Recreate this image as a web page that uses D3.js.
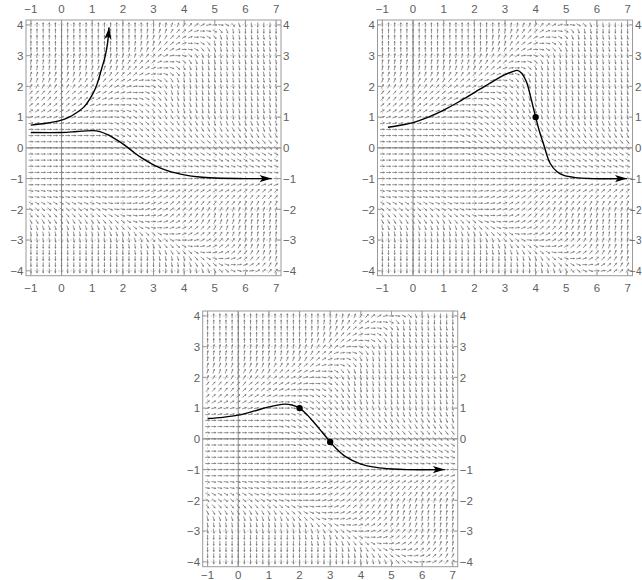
<!DOCTYPE html>
<html><head><meta charset="utf-8">
<script src="https://cdn.jsdelivr.net/npm/d3@7"></script>
<style>body{margin:0;background:#fff}svg{display:block}</style>
</head><body>
<svg id="c" width="642" height="580"></svg>
<script>
// ---------- data ----------
const xTicks = [-1, 0, 1, 2, 3, 4, 5, 6, 7];
const yTicks = [-4, -3, -2, -1, 0, 1, 2, 3, 4];
// direction-field sample points (columns left->right, rows top->bottom)
const fieldXs = [-1,-0.8,-0.6,-0.4,-0.2,0,0.2,0.4,0.6,0.8,1,1.2,1.4,1.6,1.8,2,2.2,2.4,2.6,2.8,3,3.2,3.4,3.6,3.8,4,4.2,4.4,4.6,4.8,5,5.2,5.4,5.6,5.8,6,6.2,6.4,6.6,6.8,7];
const fieldYs = [4,3.8,3.6,3.4,3.2,3,2.8,2.6,2.4,2.2,2,1.8,1.6,1.4,1.2,1,0.8,0.6,0.4,0.2,0,-0.2,-0.4,-0.6,-0.8,-1,-1.2,-1.4,-1.6,-1.8,-2,-2.2,-2.4,-2.6,-2.8,-3,-3.2,-3.4,-3.6,-3.8,-4];
// slope angle codes: A=-90deg ... J=0deg ... S=+90deg (10deg steps), run-length encoded
const angleCodes = "ABCDEFGHIJKLMNOPQRS";
const fieldRows = [
  "S21R2Q2PONMLJIGECB2A4",
  "S19R2Q2PONMLJIGECB2A6",
  "S18R2Q2PONMLJIGECB9",
  "S17R2Q2PONMLJIGECB10",
  "S16R2Q2PONMLJIGEDCB10",
  "R15Q3PO2NMKJHFDCB12",
  "R13Q3P2ON2LKJHFDCB13",
  "R10Q5P2ONMLKJHFDCB14",
  "Q11P3O2N2MLKJHFEC2B14",
  "Q6P5O2N2M2LKJIGEDCB16",
  "P8O3N3M2LKJIGFDC2B16",
  "O7N4M3L2KJ2HGEDCB17",
  "O6N4M2L2K2JIHGFEDC2B16",
  "N7M3L2K2J2IHG2FED2C3B14",
  "M8L3K2JIH2GF2E2D2C4B13",
  "L8K3J3IHG2F2E2D4C6B9",
  "K9J4IH2G2F2E4D4C13",
  "J12I2HG2F3E5D12C4",
  "J12IH2G2F4E12D8",
  "J12I2H2G3F11E11",
  "J13I2H2G8F16",
  "J14I2H5G20",
  "J15I3H13G10",
  "J17I14H10",
  "J28I13",
  "J41",
  "J18K8L15",
  "I11J5K3L5M11N6",
  "I13J3K2L3M3N7O10",
  "G8H4I2J3K2L2M2N3O8P7",
  "F9G3H2I2J2KL2M2N2O3P5Q8",
  "E10F3G2HI2JK2LMN2O2P3Q7R4",
  "D12E2F2GH2IJKLM2N2OP3Q5R5",
  "C13D2E2FGHIJKL2MN2O2P2Q3R6",
  "B13C4DEF2GIJKLM2NO2P2Q3R5",
  "B17C2DE2FGIJKLM2NO2P2Q3R3",
  "A14B5C2DE2FGIJKLMN2OP2Q3R2",
  "A17B4C2DE2FGIJKLMNO2P2Q2R",
  "A20B4C2DEFGHJKLMNO2PQ2",
  "A22B4CD2EFGHJKLMNOP2",
  "A25B3C2DEFGHJKMNO2"
];
// solution curves [x, y]
const curveUp = [[-1,0.74],[-0.5,0.8],[0,0.9],[0.25,1.0],[0.5,1.15],[0.75,1.35],[0.93,1.6],[1.1,1.92],[1.2,2.2],[1.3,2.55],[1.42,2.97],[1.5,3.4],[1.55,3.92]];
const curveLow = [[-1,0.5],[0,0.5],[0.5,0.53],[1,0.56],[1.25,0.53],[1.5,0.43],[1.8,0.26],[2,0.13],[2.3,-0.1],[2.6,-0.32],[3,-0.55],[3.5,-0.76],[4,-0.88],[4.5,-0.95],[5,-0.98],[6,-1.0],[6.85,-1.0]];
const curveP2 = [[-0.82,0.67],[-0.5,0.72],[0,0.82],[0.5,1.0],[1,1.23],[1.5,1.5],[2,1.8],[2.5,2.1],[3,2.38],[3.25,2.48],[3.4,2.52],[3.55,2.42],[3.7,2.15],[3.85,1.6],[4,1.0],[4.12,0.55],[4.25,0.15],[4.47,-0.5],[4.7,-0.78],[4.9,-0.89],[5.3,-0.97],[5.8,-1.0],[6.98,-1.0]];
const curveP3 = [[-1,0.66],[-0.5,0.7],[0,0.77],[0.5,0.9],[1,1.04],[1.5,1.13],[1.75,1.1],[2,1.0],[2.25,0.78],[2.5,0.5],[2.75,0.2],[3,-0.1],[3.2,-0.32],[3.5,-0.58],[4,-0.82],[4.5,-0.93],[5,-0.98],[5.5,-1.0],[6.74,-1.0]];
const dotsP2 = [[4,1]];
const dotsP3 = [[2,1],[3,-0.1]];

// ---------- layout ----------
const xDomain = [-1.16, 7.16], yDomain = [-4.16, 4.16];
const PW = 255, PH = 255.7;
const panels = [
  {left: 26,    top: 20,  curves: [curveUp, curveLow], dots: [], topLabels: true, bottomGap: 16.5},
  {left: 377.5, top: 20,  curves: [curveP2], dots: dotsP2, topLabels: true, bottomGap: 16.5},
  {left: 202.7, top: 311, curves: [curveP3], dots: dotsP3, topLabels: false, bottomGap: 11.8}
];

function decodeRow(s) {
  const out = [];
  s.replace(/([A-S])(\d*)/g, (m, c, n) => {
    const k = n ? +n : 1;
    for (let i = 0; i < k; i++) out.push(-90 + 10 * angleCodes.indexOf(c));
    return m;
  });
  return out;
}
const field = fieldRows.map(decodeRow);

const svg = d3.select("#c");
const FONT = "'Liberation Sans', Arial, sans-serif";
const minus = v => (v < 0 ? "\u2212" + Math.abs(v) : String(v));

panels.forEach((p, pi) => {
  const x = d3.scaleLinear().domain(xDomain).range([p.left, p.left + PW]);
  const y = d3.scaleLinear().domain(yDomain).range([p.top + PH, p.top]);
  const g = svg.append("g");

  // grid lines
  g.selectAll(".gx").data(xTicks.filter(v => v !== 0)).join("line")
    .attr("x1", d => x(d)).attr("x2", d => x(d))
    .attr("y1", p.top).attr("y2", p.top + PH)
    .attr("stroke", "#c8c8c8").attr("stroke-width", 0.8).attr("stroke-dasharray", "2,2");
  g.selectAll(".gy").data(yTicks.filter(v => v !== 0)).join("line")
    .attr("y1", d => y(d)).attr("y2", d => y(d))
    .attr("x1", p.left).attr("x2", p.left + PW)
    .attr("stroke", "#c8c8c8").attr("stroke-width", 0.8).attr("stroke-dasharray", "2,2");
  // axes
  g.append("line").attr("x1", x(0)).attr("x2", x(0)).attr("y1", p.top).attr("y2", p.top + PH)
    .attr("stroke", "#8a8a8a").attr("stroke-width", 1);
  g.append("line").attr("y1", y(0)).attr("y2", y(0)).attr("x1", p.left).attr("x2", p.left + PW)
    .attr("stroke", "#8a8a8a").attr("stroke-width", 1);

  // direction field
  const L = 4.8, hl = 1.6, hw = 1.1;
  let dPath = "", hPath = "";
  fieldYs.forEach((fy, r) => {
    fieldXs.forEach((fx, c) => {
      const a = field[r][c] * Math.PI / 180;
      const cx = x(fx), cy = y(fy);
      let ux = (x(fx + Math.cos(a)) - cx), uy = (y(fy + Math.sin(a)) - cy);
      const n = Math.hypot(ux, uy); ux /= n; uy /= n;
      const x1 = cx - ux * L / 2, y1 = cy - uy * L / 2;
      const x2 = cx + ux * L / 2, y2 = cy + uy * L / 2;
      dPath += `M${x1.toFixed(2)},${y1.toFixed(2)}L${x2.toFixed(2)},${y2.toFixed(2)}`;
      const bx = x2 - ux * hl, by = y2 - uy * hl;
      hPath += `M${x2.toFixed(2)},${y2.toFixed(2)}L${(bx - uy * hw).toFixed(2)},${(by + ux * hw).toFixed(2)}L${(bx + uy * hw).toFixed(2)},${(by - ux * hw).toFixed(2)}Z`;
    });
  });
  g.append("path").attr("d", dPath).attr("stroke", "#7a7a7a").attr("stroke-width", 0.8).attr("fill", "none");
  g.append("path").attr("d", hPath).attr("fill", "#7a7a7a").attr("stroke", "none");

  // solution curves
  const line = d3.line().x(d => x(d[0])).y(d => y(d[1])).curve(d3.curveCatmullRom.alpha(0.5));
  p.curves.forEach(cv => {
    g.append("path").attr("d", line(cv)).attr("fill", "none").attr("stroke", "#000").attr("stroke-width", 1.4);
    const e = cv[cv.length - 1], q = cv[cv.length - 2];
    const ex = x(e[0]), ey = y(e[1]);
    let vx = ex - x(q[0]), vy = ey - y(q[1]);
    const n = Math.hypot(vx, vy); vx /= n; vy /= n;
    const AL = 12, AW = 3.6, back = 9;
    const bx = ex - vx * AL, by = ey - vy * AL, mx = ex - vx * back, my = ey - vy * back;
    g.append("path")
      .attr("d", `M${ex},${ey}L${bx - vy * AW},${by + vx * AW}L${mx},${my}L${bx + vy * AW},${by - vx * AW}Z`)
      .attr("fill", "#000");
  });
  g.selectAll(".dot").data(p.dots).join("circle")
    .attr("cx", d => x(d[0])).attr("cy", d => y(d[1])).attr("r", 3.2).attr("fill", "#000");

  // frame + ticks
  g.append("rect").attr("x", p.left).attr("y", p.top).attr("width", PW).attr("height", PH)
    .attr("fill", "none").attr("stroke", "#9a9a9a").attr("stroke-width", 1);
  const tk = 4;
  xTicks.forEach(v => {
    g.append("line").attr("x1", x(v)).attr("x2", x(v)).attr("y1", p.top).attr("y2", p.top + tk).attr("stroke", "#9a9a9a");
    g.append("line").attr("x1", x(v)).attr("x2", x(v)).attr("y1", p.top + PH).attr("y2", p.top + PH - tk).attr("stroke", "#9a9a9a");
  });
  yTicks.forEach(v => {
    g.append("line").attr("y1", y(v)).attr("y2", y(v)).attr("x1", p.left).attr("x2", p.left + tk).attr("stroke", "#9a9a9a");
    g.append("line").attr("y1", y(v)).attr("y2", y(v)).attr("x1", p.left + PW).attr("x2", p.left + PW - tk).attr("stroke", "#9a9a9a");
  });

  // tick labels
  const lab = (sel) => sel.attr("font-family", FONT).attr("font-size", 11.5).attr("fill", "#606060");
  xTicks.forEach(v => {
    if (p.topLabels) lab(g.append("text")).attr("x", x(v)).attr("y", p.top - 7.5).attr("text-anchor", "middle").text(minus(v));
    lab(g.append("text")).attr("x", x(v)).attr("y", p.top + PH + p.bottomGap).attr("text-anchor", "middle").text(minus(v));
  });
  yTicks.forEach(v => {
    lab(g.append("text")).attr("x", p.left - 2.5).attr("y", y(v) + 4.2).attr("text-anchor", "end").text(minus(v));
    // keep right-edge labels of the last panel inside the page
    const rx = p.left + PW + 2;
    const t = lab(g.append("text")).attr("y", y(v) + 4.2).text(minus(v));
    if (rx + 13 > 642) t.attr("x", 641.5).attr("text-anchor", "end").attr("font-size", v < 0 ? 10 : 11.5);
    else t.attr("x", rx).attr("text-anchor", "start");
  });
});
</script>
</body></html>
